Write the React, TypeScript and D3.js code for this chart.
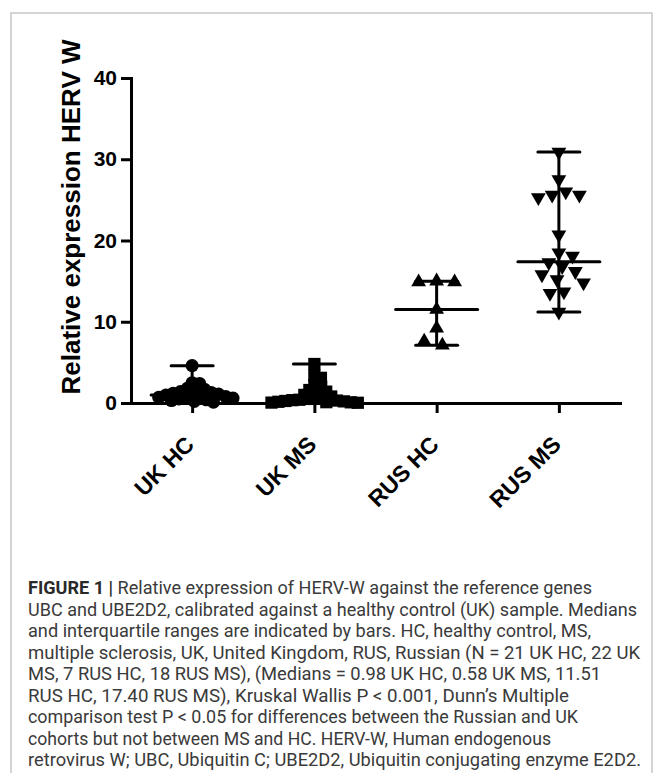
import React, { useEffect, useRef } from 'react';
import * as d3 from 'd3';

const groups = ['UK HC', 'UK MS', 'RUS HC', 'RUS MS'];

// relative expression values
const ukHc = [4.6, 2.5, 2.4, 1.8, 1.7, 1.5, 1.4, 1.3, 1.2, 1.1, 0.98, 0.9, 0.85, 0.8, 0.7, 0.6, 0.5, 0.4, 0.3, 0.2, 0.1];
const ukMs = [4.8, 3.4, 3.1, 2.2, 2.0, 1.6, 1.4, 1.2, 1.0, 0.8, 0.65, 0.5, 0.4, 0.35, 0.3, 0.25, 0.2, 0.15, 0.1, 0.08, 0.05, 0.03];
const rusHc = [15.0, 14.9, 14.9, 11.51, 9.2, 7.6, 7.1];
const rusMs = [30.9, 27.5, 26.0, 25.6, 25.6, 25.3, 20.7, 18.5, 18.1, 17.3, 16.8, 16.2, 15.8, 15.2, 14.8, 13.7, 13.5, 11.2];
const medians = [0.98, 0.58, 11.51, 17.4];
const yTicks = [0, 10, 20, 30, 40];

const captionLines = [
  'Relative expression of HERV-W against the reference genes',
  'UBC and UBE2D2, calibrated against a healthy control (UK) sample. Medians',
  'and interquartile ranges are indicated by bars. HC, healthy control, MS,',
  'multiple sclerosis, UK, United Kingdom, RUS, Russian (N = 21 UK HC, 22 UK',
  'MS, 7 RUS HC, 18 RUS MS), (Medians = 0.98 UK HC, 0.58 UK MS, 11.51',
  'RUS HC, 17.40 RUS MS), Kruskal Wallis P < 0.001, Dunn\u2019s Multiple',
  'comparison test P < 0.05 for differences between the Russian and UK',
  'cohorts but not between MS and HC. HERV-W, Human endogenous',
  'retrovirus W; UBC, Ubiquitin C; UBE2D2, Ubiquitin conjugating enzyme E2D2.',
];
// right edge of each caption line, so the wrapped text keeps its measure
const captionEnds = [592, 637, 591, 640, 601, 569, 578, 551, 641];

const App: React.FC = () => {
  const svgRef = useRef<SVGSVGElement>(null);

  useEffect(() => {
    if (!svgRef.current) return;
    const svg = d3.select(svgRef.current);
    svg.selectAll('*').remove();

    const font = '"Liberation Sans", Arial, sans-serif';
    const series = [ukHc, ukMs, rusHc, rusMs];
    const symbols = [
      { type: d3.symbolCircle, size: 135, rot: 0, gap: 7.5 },
      { type: d3.symbolSquare, size: 150, rot: 0, gap: 7 },
      { type: d3.symbolTriangle, size: 95, rot: 0, gap: 18 },
      { type: d3.symbolTriangle, size: 95, rot: 180, gap: 14 },
    ];

    // panel frame
    svg.append('rect')
      .attr('x', 11).attr('y', 13)
      .attr('width', 641).attr('height', 800)
      .attr('fill', 'none')
      .attr('stroke', '#c6c6c6')
      .attr('stroke-width', 1.5);

    const x = d3.scalePoint<string>().domain(groups).range([131, 620]).padding(0.5);
    const y = d3.scaleLinear().domain([0, 40]).range([403, 78]);

    // simple beeswarm so overlapping points spread sideways (alternating sides)
    const swarm = (values: number[], cx: number, d: number) => {
      const placed: { x: number; y: number }[] = [];
      [...values].sort((a, b) => b - a).forEach((v, k) => {
        const py = y(v);
        const cands = [0];
        placed.forEach(p => {
          const dy = Math.abs(p.y - py);
          if (dy < d) {
            const dx = Math.sqrt(d * d - dy * dy);
            cands.push(p.x + dx, p.x - dx);
          }
        });
        const side = k % 2 === 0 ? 1 : -1;
        cands.sort((a, b) => (Math.abs(a) - Math.abs(b)) || (side * (b - a)));
        const px = cands.find(c =>
          placed.every(p => (p.x - c) ** 2 + (p.y - py) ** 2 >= d * d - 0.01)) ?? 0;
        placed.push({ x: px, y: py });
      });
      return placed.map(p => ({ x: cx + p.x, y: p.y }));
    };

    // points
    series.forEach((vals, i) => {
      const cx = x(groups[i]) as number;
      const sym = d3.symbol().type(symbols[i].type).size(symbols[i].size);
      svg.append('g')
        .selectAll('path')
        .data(swarm(vals, cx, symbols[i].gap))
        .enter()
        .append('path')
        .attr('d', sym)
        .attr('transform', d => `translate(${d.x},${d.y}) rotate(${symbols[i].rot})`)
        .attr('fill', '#000');
    });

    // median and range bars
    series.forEach((vals, i) => {
      const cx = x(groups[i]) as number;
      const [lo, hi] = d3.extent(vals) as [number, number];
      const g = svg.append('g')
        .attr('stroke', '#000')
        .attr('stroke-width', 3)
        .attr('stroke-linecap', 'round');
      g.append('line').attr('x1', cx).attr('x2', cx).attr('y1', y(lo)).attr('y2', y(hi));
      g.append('line').attr('x1', cx - 21).attr('x2', cx + 21).attr('y1', y(lo)).attr('y2', y(lo));
      g.append('line').attr('x1', cx - 21).attr('x2', cx + 21).attr('y1', y(hi)).attr('y2', y(hi));
      g.append('line').attr('x1', cx - 41).attr('x2', cx + 41)
        .attr('y1', y(medians[i])).attr('y2', y(medians[i]));
    });

    // X axis
    const xAxis = svg.append('g')
      .attr('transform', `translate(0,${y(0)})`)
      .call(d3.axisBottom(x).tickSize(10).tickSizeOuter(0));
    xAxis.select('.domain').attr('stroke-width', 3).attr('stroke-linecap', 'square');
    xAxis.selectAll('.tick line').attr('stroke-width', 3);
    xAxis.selectAll('.tick text')
      .attr('x', 0).attr('y', 0).attr('dy', 0)
      .attr('transform', 'translate(3,43) rotate(-45)')
      .attr('text-anchor', 'end')
      .attr('fill', '#000')
      .style('font-family', font)
      .style('font-size', '23px')
      .style('font-weight', 'bold');

    // Y axis
    const yAxis = svg.append('g')
      .attr('transform', `translate(${x.range()[0]},0)`)
      .call(d3.axisLeft(y).tickValues(yTicks).tickSize(10).tickSizeOuter(0).tickPadding(4));
    yAxis.select('.domain').attr('stroke-width', 3).attr('stroke-linecap', 'square');
    yAxis.selectAll('.tick line').attr('stroke-width', 3);
    yAxis.selectAll('.tick text')
      .attr('fill', '#000')
      .style('font-family', font)
      .style('font-size', '21px')
      .style('font-weight', 'bold');

    // Axis label
    svg.append('text')
      .attr('transform', 'translate(80,217) rotate(-90)')
      .attr('text-anchor', 'middle')
      .style('font-family', font)
      .style('font-size', '26px')
      .style('font-weight', 'bold')
      .attr('fill', '#000')
      .text('Relative expression HERV W');

    // Caption
    const cap = svg.append('g')
      .style('font-family', 'Roboto, "Liberation Sans", sans-serif')
      .style('font-size', '17.5px')
      .attr('fill', '#3a3a3a');
    captionLines.forEach((line, i) => {
      const t = cap.append('text')
        .attr('x', 28)
        .attr('y', 594 + i * 21.5)
        .attr('textLength', captionEnds[i] - 28)
        .attr('lengthAdjust', 'spacingAndGlyphs');
      if (i === 0) {
        t.append('tspan').style('font-weight', 'bold').attr('fill', '#2a2a2a').text('FIGURE 1 | ');
      }
      t.append('tspan').text(line);
    });
  }, []);

  return (
    <svg
      ref={svgRef}
      width={663}
      height={773}
      style={{ position: 'absolute', left: 0, top: 0, background: '#fff' }}
    />
  );
};

export default App;
